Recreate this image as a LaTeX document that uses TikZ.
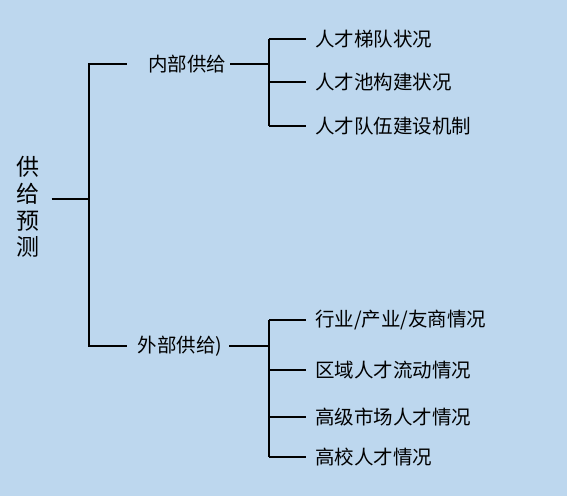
\documentclass[tikz,border=0pt]{standalone}
\usepackage{fontspec}
\setmainfont{Noto Sans CJK SC}
\usepackage{tikz}
\usetikzlibrary{calc}
\definecolor{bgblue}{RGB}{189,215,238}
\tikzstyle{lbl}=[inner sep=0pt,font=\fontsize{19.5}{23}\selectfont]
\tikzstyle{leaf}=[lbl,anchor=west]
\tikzstyle{rootlbl}=[inner ysep=0pt,inner xsep=12pt,align=center,font=\fontsize{23}{26.8}\selectfont]
\tikzstyle{ln}=[line width=1.6pt]

\begin{document}
\begin{tikzpicture}[x=1pt,y=-1pt]
	\fill[bgblue] (0,0) rectangle (567,496);
	\node[rootlbl] (R) at (28,207) {供\\给\\预\\测};
	\coordinate (J) at (89,199);
	\node[lbl] (In) at (187,64) {内部供给};
	\node[lbl] (Out) at (180,346) {外部供给)};
	\coordinate (Bi) at (269,0);
	\coordinate (Bo) at (269,0);
	\node[leaf] (i1) at (315,39) {人才梯队状况};
	\node[leaf] (i2) at (315,82) {人才池构建状况};
	\node[leaf] (i3) at (315,126) {人才队伍建设机制};
	\node[leaf] (o1) at (315,320) {行业/产业/友商情况};
	\node[leaf] (o2) at (315,370) {区域人才流动情况};
	\node[leaf] (o3) at (315,417) {高级市场人才情况};
	\node[leaf] (o4) at (315,457) {高校人才情况};
	\draw[ln] (R.east |- J) -- (J);
	\draw[ln] ([xshift=-21pt]In.west) -| (J) |- ([xshift=-11pt]Out.west);
	\draw[ln,shorten <=4pt] (In.east) -- (In.east -| Bi);
	\draw[ln,shorten <=7pt] (Out.east) -- (Out.east -| Bo);
	\draw[ln] (i1.west -| Bi) -- (i3.west -| Bi);
	\draw[ln] (o1.west -| Bo) -- (o4.west -| Bo);
	\foreach \n in {i1,i2,i3,o1,o2,o3,o4}
		\draw[ln] (\n.west -| Bi) -- ([xshift=-9pt]\n.west);
\end{tikzpicture}
\end{document}
